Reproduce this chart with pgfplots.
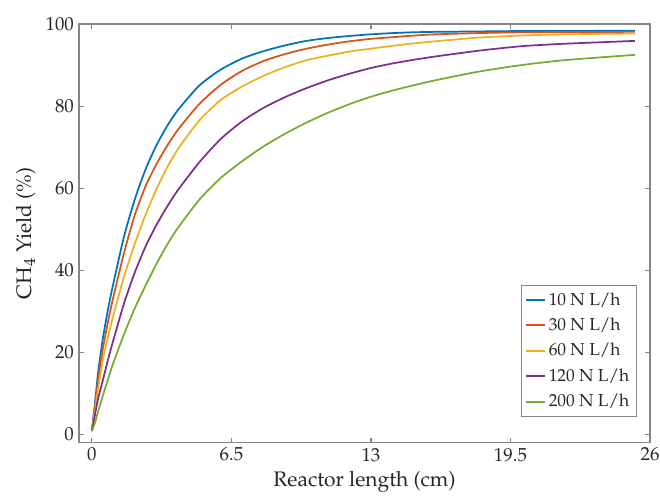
\documentclass[border=0pt]{standalone}
\usepackage[T1]{fontenc}
\usepackage{mathpazo}
\usepackage{pgfplots}
\pgfplotsset{compat=1.18}
\definecolor{c1}{rgb}{0,0.447,0.741}
\definecolor{c2}{rgb}{0.85,0.325,0.098}
\definecolor{c3}{rgb}{0.929,0.694,0.125}
\definecolor{c4}{rgb}{0.494,0.184,0.556}
\definecolor{c5}{rgb}{0.466,0.674,0.188}
\definecolor{txt}{HTML}{262626}
\definecolor{axc}{HTML}{858585}
\begin{document}
\begin{tikzpicture}
\begin{axis}[
  scale only axis, width=394pt, height=289pt,
  xmin=-0.6, xmax=26, ymin=-2, ymax=100,
  xtick={0,6.5,13,19.5,26}, ytick={0,20,40,60,80,100},
  tick align=inside, major tick length=3.5pt,
  axis line style={axc, line width=0.8pt},
  tick style={axc, line width=0.8pt},
  every tick label/.append style={font=\fontsize{13}{15}\selectfont, text=txt},
  xlabel={Reactor length (cm)}, ylabel={CH$_4$ Yield (\%)},
  label style={font=\fontsize{14.5}{16}\selectfont, text=txt},
  legend style={at={(1,0)}, anchor=south east, xshift=-9pt, yshift=18pt,
    draw=axc, line width=0.6pt, font=\fontsize{12}{14}\selectfont, text=txt,
    row sep=3.4pt, inner xsep=3pt, inner ysep=3pt},
  legend cell align=left,
  legend image code/.code={\draw[mark repeat=2,mark phase=2,#1] plot coordinates {(0cm,0cm) (0.22cm,0cm) (0.45cm,0cm)};},
  every axis plot/.append style={line width=1.2pt, smooth, tension=0.4},
]
\addplot[c1] coordinates {(0,1) (0.15,8) (0.3,15.5) (0.5,23) (0.75,30.5) (1,36.8) (1.5,48.3) (2,57.3) (2.5,64.6) (3,70.4) (3.5,75.1) (4,79) (5,85) (6,88.9) (7,91.6) (8,93.4) (9,94.8) (10,95.9) (11,96.6) (12,97.1) (13,97.5) (14,97.8) (15,98) (16,98.1) (18,98.2) (20,98.3) (22,98.3) (25.3,98.4)};
\addplot[c2] coordinates {(0,1) (0.15,7) (0.3,13.5) (0.5,20.5) (0.75,27.5) (1,33.5) (1.5,44.3) (2,53.5) (2.5,60.5) (3,65.8) (3.5,70.3) (4,74.2) (5,80.5) (6,85.2) (7,88.6) (8,91) (9,92.7) (10,94) (11,95) (12,95.8) (13,96.4) (14,96.8) (15,97.2) (16,97.5) (18,97.8) (20,98) (22,98.05) (25.3,98.1)};
\addplot[c3] coordinates {(0,1) (0.15,6) (0.3,11.5) (0.5,18) (0.75,23.8) (1,29) (1.5,38.5) (2,46.5) (2.5,53.5) (3,59.7) (3.5,65) (4,69.5) (5,76.5) (6,81.5) (7,84.8) (8,87.4) (9,89.5) (10,91.2) (11,92.3) (12,93.3) (13,94) (14,94.7) (15,95.3) (16,95.8) (18,96.7) (20,97.2) (22,97.5) (25.3,97.7)};
\addplot[c4] coordinates {(0,1) (0.15,5) (0.3,9) (0.5,13) (0.75,18.2) (1,23) (1.5,32) (2,39.5) (2.5,45.8) (3,51) (3.5,55.5) (4,59.5) (5,66.3) (6,72) (7,76.3) (8,79.6) (9,82.2) (10,84.4) (11,86.3) (12,87.9) (13,89.3) (14,90.4) (15,91.3) (16,92.1) (18,93.5) (20,94.6) (22,95.2) (25.3,95.9)};
\addplot[c5] coordinates {(0,0.8) (0.15,3) (0.3,5.8) (0.5,9.3) (0.75,13.5) (1,17.5) (1.5,24.5) (2,30.8) (2.5,36.3) (3,41.5) (3.5,46.2) (4,50.3) (5,57.2) (6,62.5) (7,66.6) (8,70.2) (9,73.3) (10,76) (11,78.4) (12,80.5) (13,82.3) (14,83.8) (15,85.1) (16,86.3) (18,88.4) (20,90) (22,91.2) (25.3,92.5)};
\legend{10 N L/h, 30 N L/h, 60 N L/h, 120 N L/h, 200 N L/h}
\end{axis}
\pgfresetboundingbox
\path (-54.5pt,-38.6pt) rectangle (400.9pt,305.6pt);
\end{tikzpicture}
\end{document}
